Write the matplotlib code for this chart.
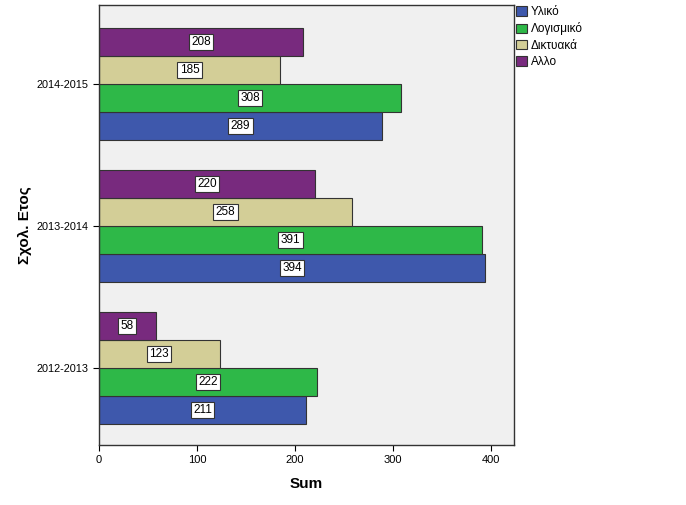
import matplotlib
matplotlib.use("Agg")
import matplotlib.pyplot as plt
import numpy as np
from matplotlib.patches import Patch

plt.rcParams['font.family'] = ['Liberation Sans', 'DejaVu Sans']

years = ["2012-2013", "2013-2014", "2014-2015"]
series = ["Υλικό", "Λογισμικό", "Δικτυακά", "Αλλο"]
ylika = [211, 394, 289]
logismiko = [222, 391, 308]
diktyaka = [123, 258, 185]
allo = [58, 220, 208]
values = [ylika, logismiko, diktyaka, allo]
colors = ["#3e58ac", "#2eb848", "#d3ce97", "#782a7e"]

fig = plt.figure(figsize=(6.86, 5.05), dpi=100)
ax = fig.add_axes([99/686, 1-445/505, (514-99)/686, (445-5)/505])
ax.set_facecolor("#f0f0f0")

h = 0.197
offsets = [-1.5*h, -0.5*h, 0.5*h, 1.5*h]
y = np.arange(len(years))
for vals, off, c in zip(values, offsets, colors):
    bars = ax.barh(y + off, vals, height=h, color=c, edgecolor="#333333", linewidth=0.8, zorder=2)
    for b, v in zip(bars, vals):
        ax.text(v/2, b.get_y() + b.get_height()/2, str(v), ha="center", va="center",
                fontsize=8.5, zorder=3,
                bbox=dict(boxstyle="square,pad=0.2", fc="white", ec="#333333", lw=0.8))

ax.set_xlim(0, 423.5)
ax.set_ylim(-0.542, 2.556)
ax.set_yticks(y)
ax.set_yticklabels(years, fontsize=7.8)
ax.set_xticks([0, 100, 200, 300, 400])
ax.tick_params(axis='x', labelsize=8, length=4)
ax.tick_params(axis='y', length=4)
ax.set_xlabel("Sum", fontsize=11, fontweight="bold", labelpad=8)
ax.set_ylabel("Σχολ. Ετος", fontsize=11, fontweight="bold")
ax.yaxis.set_label_coords(-67/415, 0.5)
for s in ax.spines.values():
    s.set_linewidth(1.0)
    s.set_color("#333333")

handles = [Patch(facecolor=c, edgecolor="#333333", lw=0.8) for c in colors]
fig.legend(handles, series, loc="upper left", bbox_to_anchor=(514/686, 1-4/505),
           frameon=False, fontsize=8.5, handlelength=0.9, handleheight=0.9,
           handletextpad=0.3, labelspacing=0.35, borderpad=0.2, borderaxespad=0)

fig.savefig("out.png", dpi=100)
